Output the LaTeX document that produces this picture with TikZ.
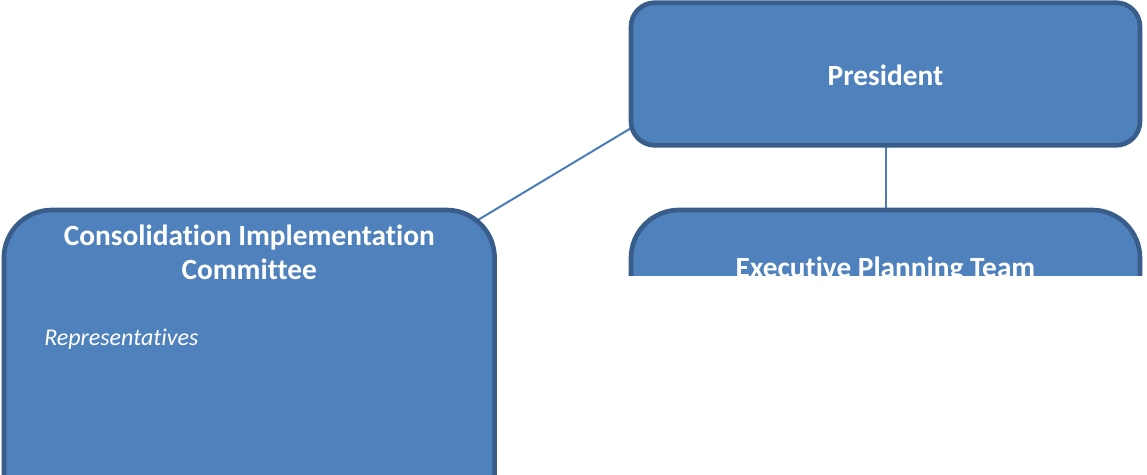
\documentclass[tikz,border=0pt]{standalone}
\usepackage{fontspec}
\setmainfont{Carlito}[Ligatures=NoCommon]
\usetikzlibrary{backgrounds,calc}
\definecolor{boxfill}{RGB}{79,129,189}
\definecolor{boxline}{RGB}{56,93,138}
\definecolor{linkline}{RGB}{74,126,187}

\begin{document}
\begin{tikzpicture}[x=0.75pt,y=0.75pt,yscale=-1,xscale=1,
    orgbox/.style={draw=boxline,fill=boxfill,line width=3.5pt,outer sep=0pt,inner sep=0pt},
    boxtext/.style={text=white,font=\fontsize{22}{25.5}\selectfont\bfseries,inner sep=0pt,align=center},
    link/.style={draw=linkline,line width=1.5pt}]
    \clip (0,0) rectangle (1147,475);

    % President
    \node [orgbox,rounded corners=18pt,minimum width=381.75pt,minimum height=107pt] (pres) at (885.5,74) {};
    \node [boxtext,anchor=base] (presT) at (885.5,85) {President};

    % Consolidation Implementation Committee
    \node [orgbox,rounded corners=36pt,minimum width=368pt,minimum height=262.5pt] (cic) at (249.25,385) {};
    \node [boxtext,anchor=base] (cicT) at (249.25,279) {Consolidation Implementation\\Committee};
    \node [text=white,font=\fontsize{18}{22}\selectfont\itshape,inner sep=0pt,anchor=base west] (cicR) at (44,345) {Representatives};

    % Executive Planning Team (cut off)
    \begin{scope}
    \clip (600,0) rectangle (1147,275);
    \node [orgbox,rounded corners=36pt,minimum width=381.75pt,minimum height=262.5pt] (ept) at (885.5,385) {};
    \node [boxtext,anchor=base] (eptT) at (885.5,277) {Executive Planning Team};
    \end{scope}

    % links
    \begin{scope}[on background layer]
    \draw [link] (pres.192) -- ($(pres.192)!1.2!(cic.north east)$);
    \draw [link] (pres.south) -- (ept.north);
    \end{scope}
\end{tikzpicture}
\end{document}
